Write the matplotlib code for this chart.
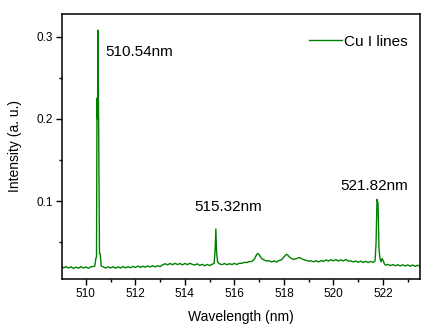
import matplotlib
matplotlib.use("Agg")
import matplotlib.pyplot as plt
from matplotlib.ticker import MultipleLocator

plt.rcParams['font.family'] = ['Liberation Sans', 'DejaVu Sans']

wavelength = [
    509.05, 509.1, 509.2, 509.3, 509.4, 509.5, 509.6, 509.7, 509.8, 509.9,
    510.0, 510.1, 510.2, 510.3, 510.36, 510.40, 510.43, 510.45, 510.47, 510.49,
    510.52, 510.55, 510.58, 510.62, 510.7, 510.8, 510.9, 511.0, 511.1, 511.2,
    511.3, 511.4, 511.5, 511.6, 511.7, 511.8, 511.9, 512.0, 512.1, 512.2,
    512.3, 512.4, 512.5, 512.6, 512.7, 512.8, 512.9, 513.0, 513.1, 513.2,
    513.3, 513.4, 513.5, 513.6, 513.7, 513.8, 513.9, 514.0, 514.1, 514.2,
    514.3, 514.4, 514.5, 514.6, 514.7, 514.8, 514.9, 515.0, 515.1, 515.18,
    515.22, 515.25, 515.28, 515.32, 515.38, 515.5, 515.6, 515.7, 515.8, 515.9,
    516.0, 516.1, 516.2, 516.3, 516.4, 516.5, 516.6, 516.7, 516.8, 516.9,
    516.95, 517.0, 517.1, 517.2, 517.3, 517.4, 517.5, 517.6, 517.7, 517.8,
    517.9, 518.0, 518.1, 518.15, 518.2, 518.3, 518.4, 518.5, 518.6, 518.65,
    518.7, 518.8, 518.9, 519.0, 519.1, 519.2, 519.3, 519.4, 519.5, 519.6,
    519.7, 519.8, 519.9, 520.0, 520.1, 520.2, 520.3, 520.4, 520.5, 520.6,
    520.7, 520.8, 520.9, 521.0, 521.1, 521.2, 521.3, 521.4, 521.5, 521.6,
    521.68, 521.72, 521.76, 521.80, 521.84, 521.88, 521.92, 521.96, 522.0, 522.05,
    522.1, 522.2, 522.3, 522.4, 522.5, 522.6, 522.7, 522.8, 522.9, 523.0,
    523.1, 523.2, 523.3, 523.4, 523.5,
]

intensity = [
    0.0198, 0.0186, 0.0203, 0.0184, 0.0199, 0.0179, 0.0196, 0.0182, 0.0201, 0.0185,
    0.0197, 0.0182, 0.0200, 0.0203, 0.0208, 0.0300, 0.0320, 0.2250, 0.2000, 0.3080,
    0.1800, 0.0360, 0.0355, 0.0210, 0.0199, 0.0184, 0.0200, 0.0186, 0.0201, 0.0183,
    0.0198, 0.0185, 0.0203, 0.0187, 0.0200, 0.0188, 0.0205, 0.0192, 0.0208, 0.0193,
    0.0207, 0.0195, 0.0210, 0.0197, 0.0212, 0.0199, 0.0214, 0.0201, 0.0224, 0.0237,
    0.0224, 0.0240, 0.0225, 0.0242, 0.0227, 0.0240, 0.0223, 0.0241, 0.0226, 0.0243,
    0.0229, 0.0222, 0.0236, 0.0216, 0.0230, 0.0212, 0.0228, 0.0215, 0.0231, 0.0240,
    0.0400, 0.0660, 0.0370, 0.0260, 0.0238, 0.0226, 0.0240, 0.0225, 0.0238, 0.0227,
    0.0241, 0.0228, 0.0244, 0.0241, 0.0254, 0.0251, 0.0264, 0.0264, 0.0290, 0.0350,
    0.0362, 0.0345, 0.0300, 0.0282, 0.0270, 0.0274, 0.0258, 0.0272, 0.0258, 0.0276,
    0.0285, 0.0320, 0.0352, 0.0345, 0.0325, 0.0300, 0.0290, 0.0298, 0.0312, 0.0310,
    0.0300, 0.0286, 0.0278, 0.0268, 0.0272, 0.0261, 0.0274, 0.0259, 0.0276, 0.0264,
    0.0284, 0.0269, 0.0286, 0.0272, 0.0288, 0.0270, 0.0285, 0.0271, 0.0289, 0.0268,
    0.0272, 0.0258, 0.0270, 0.0254, 0.0268, 0.0252, 0.0266, 0.0251, 0.0265, 0.0254,
    0.0270, 0.0485, 0.1020, 0.0970, 0.0410, 0.0300, 0.0260, 0.0300, 0.0280, 0.0240,
    0.0220, 0.0229, 0.0214, 0.0227, 0.0212, 0.0225, 0.0210, 0.0224, 0.0209, 0.0223,
    0.0207, 0.0221, 0.0205, 0.0219, 0.0203,
]

peak_labels = ["510.54nm", "515.32nm", "521.82nm"]
label_x = [510.77, 514.40, 520.26]
label_y = [0.2814, 0.0923, 0.1182]

series_name = "Cu I lines"
xlim = (509.05, 523.5)
ylim = (0.0055, 0.3276)
xticks = [510, 512, 514, 516, 518, 520, 522]
yticks = [0.1, 0.2, 0.3]

fig = plt.figure(figsize=(4.30, 3.34), dpi=100)
ax = fig.add_axes([0.145, 0.1656, 0.832, 0.7925])

green = "#008000"
ax.plot(wavelength, intensity, color=green, lw=1.0, label=series_name)

ax.set_xlim(*xlim)
ax.set_ylim(*ylim)
ax.set_xticks(xticks)
ax.set_xticklabels([str(t) for t in xticks])
ax.set_yticks(yticks)
ax.set_yticklabels([f"{t:.1f}" for t in yticks])
ax.xaxis.set_minor_locator(MultipleLocator(1))
ax.yaxis.set_minor_locator(MultipleLocator(0.05))

ax.tick_params(which='major', direction='out', length=4, width=1.0,
               labelsize=8.5, pad=3)
ax.tick_params(which='minor', direction='out', length=2.5, width=1.0)
ax.tick_params(top=False, right=False, which='both')
for s in ax.spines.values():
    s.set_linewidth(1.1)

ax.set_xlabel("Wavelength (nm)", fontsize=10, labelpad=7)
ax.set_ylabel("Intensity (a. u.)", fontsize=10, labelpad=10)

for txt, x, y in zip(peak_labels, label_x, label_y):
    ax.text(x, y, txt, fontsize=11, ha='left', va='center')

leg = ax.legend(loc='upper right', bbox_to_anchor=(0.965, 0.922), frameon=False,
                fontsize=11, handlelength=2.2, handletextpad=0.1, borderpad=0,
                borderaxespad=0)

fig.savefig("out.png", dpi=100)
